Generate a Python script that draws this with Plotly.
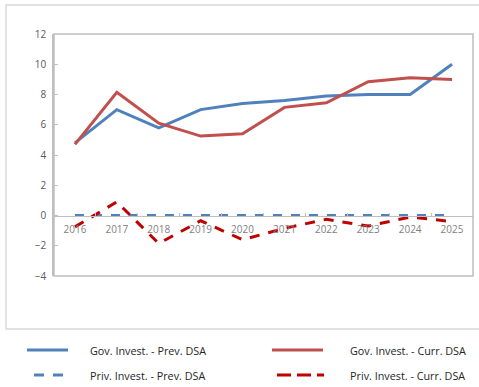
import plotly.graph_objects as go

years = ["2016", "2017", "2018", "2019", "2020", "2021", "2022", "2023", "2024", "2025"]
gov_prev = [4.8, 7.0, 5.8, 7.0, 7.4, 7.6, 7.9, 8.0, 8.0, 10.0]
gov_curr = [4.7, 8.15, 6.1, 5.25, 5.4, 7.15, 7.45, 8.85, 9.1, 9.0]
priv_prev = [0, 0, 0, 0, 0, 0, 0, 0, 0, 0]
priv_curr = [-0.75, 0.9, -1.85, -0.35, -1.6, -0.85, -0.25, -0.7, -0.1, -0.4]

names = ["Gov. Invest. - Prev. DSA", "Gov. Invest. - Curr. DSA",
         "Priv. Invest. - Prev. DSA", "Priv. Invest. - Curr. DSA"]

BLUE = "#4F81BD"
RED = "#C0504D"
DARKRED = "#C00000"
GRID = "#BFBFBF"
FONT = "Open Sans"

fig = go.Figure()
fig.add_trace(go.Scatter(x=years, y=priv_prev, mode="lines", name=names[2],
                         line=dict(color=BLUE, width=3, dash="9px,9px")))
fig.add_trace(go.Scatter(x=years, y=priv_curr, mode="lines", name=names[3],
                         line=dict(color=DARKRED, width=3, dash="10px,9px")))
fig.add_trace(go.Scatter(x=years, y=gov_prev, mode="lines", name=names[0],
                         line=dict(color=BLUE, width=3)))
fig.add_trace(go.Scatter(x=years, y=gov_curr, mode="lines", name=names[1],
                         line=dict(color=RED, width=3)))

W, H = 479, 387
L, R, T, B = 54, 6, 34, 111
pw, ph = W - L - R, H - T - B

def px(x):
    return (x - L) / pw

def py(y):
    return (H - B - y) / ph

shapes = [
    # outer chart frame
    dict(type="rect", xref="paper", yref="paper",
         x0=px(6), x1=px(490), y0=py(329), y1=py(5),
         line=dict(color="#D9D9D9", width=1.5), layer="below"),
    # plot-area border
    dict(type="rect", xref="paper", yref="paper", x0=0, x1=1, y0=0, y1=1,
         line=dict(color=GRID, width=1.5), layer="below"),
]

# legend keys and labels
legend_items = [
    (names[0], BLUE, None, 27, 68, 350, 88),
    (names[1], RED, None, 272, 323, 350, 348),
    (names[2], BLUE, "10px,9px", 34, 64, 375, 88),
    (names[3], DARKRED, "14px,6px", 277, 324, 375, 348),
]
annotations = []
for label, color, dash, x0, x1, yy, tx in legend_items:
    line = dict(color=color, width=3)
    if dash:
        line["dash"] = dash
    shapes.append(dict(type="line", xref="paper", yref="paper",
                       x0=px(x0), x1=px(x1), y0=py(yy), y1=py(yy), line=line))
    annotations.append(dict(text=label, xref="paper", yref="paper",
                            x=px(tx), y=py(yy), xanchor="left", yanchor="middle",
                            showarrow=False,
                            font=dict(family=FONT, size=10.8, color="#262626")))

fig.update_layout(
    width=W, height=H,
    margin=dict(l=L, r=R, t=T, b=B),
    paper_bgcolor="white", plot_bgcolor="white",
    showlegend=False,
    font=dict(family=FONT, size=10, color="#595959"),
    shapes=shapes, annotations=annotations,
    xaxis=dict(type="category", range=[-0.5, 9.5], showgrid=False,
               anchor="free", position=py(215.5), showline=True,
               linecolor=GRID, linewidth=1, ticks="inside", ticklen=3,
               tickcolor=GRID, tickson="boundaries",
               tickfont=dict(family=FONT, size=10, color="#7F7F7F"),
               ticklabelstandoff=4, zeroline=False),
    yaxis=dict(range=[-4, 12], dtick=2, showgrid=False, zeroline=False,
               showline=True, linecolor=GRID, linewidth=1.5,
               ticks="inside", ticklen=4, tickcolor=GRID,
               tickfont=dict(family=FONT, size=10, color="#595959"),
               ticklabelstandoff=4),
)

fig.write_html("out.html")
